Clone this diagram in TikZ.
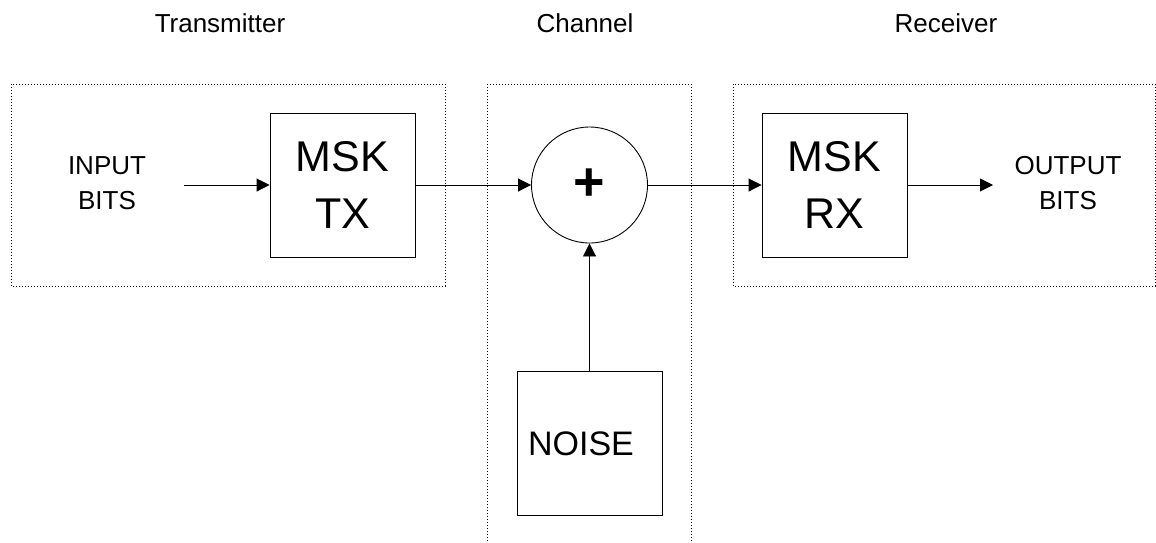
\documentclass[tikz,border=0pt]{standalone}
\usepackage{fontspec}
\setmainfont{Liberation Sans}
\usetikzlibrary{arrows.meta}
\tikzset{
  blk/.style={draw, line width=0.9pt, minimum width=145pt, minimum height=144pt, inner sep=0pt},
  zone/.style={draw, line width=0.9pt, dash pattern=on 1pt off 2pt},
  lbl/.style={font=\fontsize{26}{35}\selectfont, align=center, inner sep=0pt},
  sig/.style={line width=0.9pt, -{Triangle[length=13pt,width=13pt]}}
}
\begin{document}
\begin{tikzpicture}[x=1pt,y=-1pt]
    \useasboundingbox (0,0) rectangle (1156,542);
    % dotted zones
    \draw [zone] (11,84) rectangle (445,286);
    \draw [zone] (487,84) -- (487,542);
    \draw [zone] (691,84) -- (691,542);
    \draw [zone] (487,84) -- (691,84);
    \draw [zone] (733,84) rectangle (1155,286);
    % titles
    \node [lbl, anchor=base] (ttx) at (220,32) {Transmitter};
    \node [lbl, anchor=base] (tch) at (585,32) {Channel};
    \node [lbl, anchor=base] (trx) at (946,32) {Receiver};
    % blocks
    \node [blk, font=\fontsize{43}{57}\selectfont, align=center] (tx) at (342.5,185) {MSK\\TX};
    \node [blk, font=\fontsize{43}{57}\selectfont, align=center] (rx) at (834.5,185) {MSK\\RX};
    \node [draw, circle, line width=0.9pt, minimum size=116pt, inner sep=0pt,
           font=\fontsize{54}{54}\selectfont\bfseries] (sum) at (589.5,185) {\raisebox{-3pt}{+}};
    \node [blk, font=\fontsize{34}{40}\selectfont] (noise) at (589.5,443.5) {NOISE\,\,\,};
    \node [lbl] (inb) at (107,183) {INPUT\\BITS};
    \node [lbl] (outb) at (1068,183) {OUTPUT\\BITS};
    \coordinate (inend) at (184,185);
    \coordinate (outend) at (993,185);
    % signals
    \draw [sig] (inend) -- (tx);
    \draw [sig] (tx) -- (sum);
    \draw [sig] (sum) -- (rx);
    \draw [sig] (rx) -- (outend);
    \draw [sig] (noise) -- (sum);
\end{tikzpicture}
\end{document}
